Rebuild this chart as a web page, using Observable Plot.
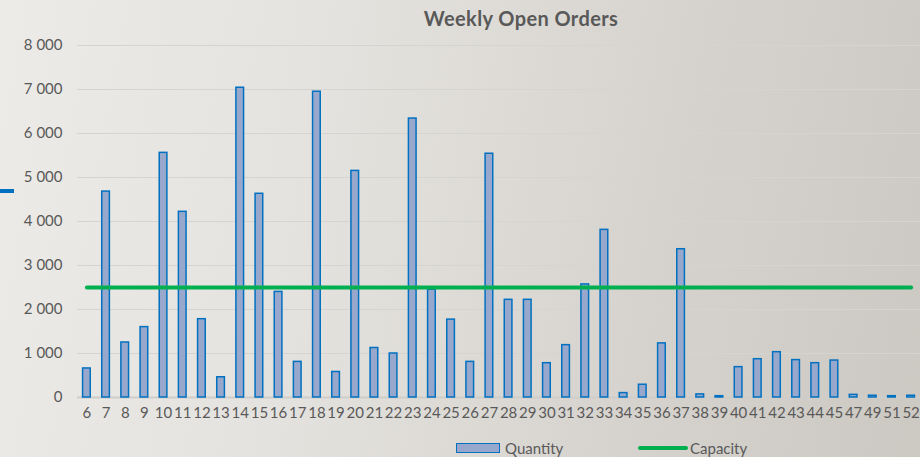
<!DOCTYPE html>
<html>
<head>
<meta charset="utf-8">
<script src="https://cdn.jsdelivr.net/npm/d3@7"></script>
<script src="https://cdn.jsdelivr.net/npm/@observablehq/plot@0.6"></script>
<style>
  html, body { margin: 0; padding: 0; }
  body { width: 920px; height: 457px; overflow: hidden; position: relative;
    font-family: Lato, "Open Sans", sans-serif;
    background: linear-gradient(100deg, #ecebe8 0%, #e4e2de 35%, #d6d3ce 70%, #ccc8c2 100%); }
  #title { position: absolute; left: 0; top: 0; width: 1042px; height: 36px; line-height: 36px;
    text-align: center; font-weight: 700; font-size: 20px; letter-spacing: 0.4px; color: #595959; }
  #chart { position: absolute; left: 0; top: 36px; }
  #legend { position: absolute; left: 0; top: 438px; width: 920px; height: 20px; font-size: 15px; color: #595959; }
  .sw { position: absolute; }
  #mark { position: absolute; left: 0; top: 189px; width: 14px; height: 4px; background: #0070C0; }
</style>
</head>
<body>
<div id="title">Weekly Open Orders</div>
<div id="mark"></div>
<div id="chart"></div>
<div id="legend">
  <div class="sw" style="left:456px; top:5px; width:42px; height:8px; background:#98A8CC; border:1.5px solid #0070C0;"></div>
  <div class="sw" style="left:505px; top:0px; line-height:20px;">Quantity</div>
  <div class="sw" style="left:638px; top:8px; width:50px; height:4px; border-radius:2px; background:#00B050;"></div>
  <div class="sw" style="left:690px; top:0px; line-height:20px;">Capacity</div>
</div>
<script>
const weeks = ["6","7","8","9","10","11","12","13","14","15","16","17","18","19","20","21","22","23","24","25","26","27","28","29","30","31","32","33","34","35","36","37","38","39","40","41","42","43","44","45","47","49","51","52"];
const quantity = [660,4680,1250,1600,5560,4220,1780,460,7040,4630,2400,810,6950,580,5150,1125,1000,6340,2450,1770,810,5540,2220,2220,780,1190,2570,3810,100,290,1230,3370,70,30,690,870,1030,850,780,840,60,40,30,40];
const capacity = 2500;
const yTicks = [0,1000,2000,3000,4000,5000,6000,7000,8000];

const bars = weeks.map((w, i) => ({week: w, quantity: quantity[i]}));
const cap = weeks.map(w => ({week: w, capacity}));
const fmt = d => d3.format(",")(d).replace(/,/g, " ");

const chart = Plot.plot({
  width: 920,
  height: 394,
  marginLeft: 77,
  marginRight: 0,
  marginTop: 9,
  marginBottom: 33,
  style: {background: "transparent", fontFamily: "Lato, 'Open Sans', sans-serif", fontSize: "15px", color: "#595959"},
  x: {domain: weeks, padding: 0.6, paddingOuter: 0.29, round: false, label: null},
  y: {domain: [0, 8000], label: null},
  marks: [
    Plot.ruleY(yTicks.filter(d => d > 0), {stroke: "#d6d4d0", strokeWidth: 1.2}),
    Plot.ruleY([0], {stroke: "#cfcdc9", strokeWidth: 2}),
    Plot.barY(bars, {x: "week", y: "quantity", fill: "#98A8CC", stroke: "#0070C0", strokeWidth: 1.5}),
    Plot.lineY(cap, {x: "week", y: "capacity", stroke: "#00B050", strokeWidth: 4, strokeLinecap: "round"}),
    Plot.axisY({ticks: yTicks, tickFormat: fmt, tickSize: 0, tickPadding: 15, fontSize: 15, fill: "#595959"}),
    Plot.axisX({tickSize: 0, tickPadding: 10, fontSize: 15, fill: "#595959"})
  ]
});
document.getElementById("chart").appendChild(chart);
</script>
</body>
</html>
